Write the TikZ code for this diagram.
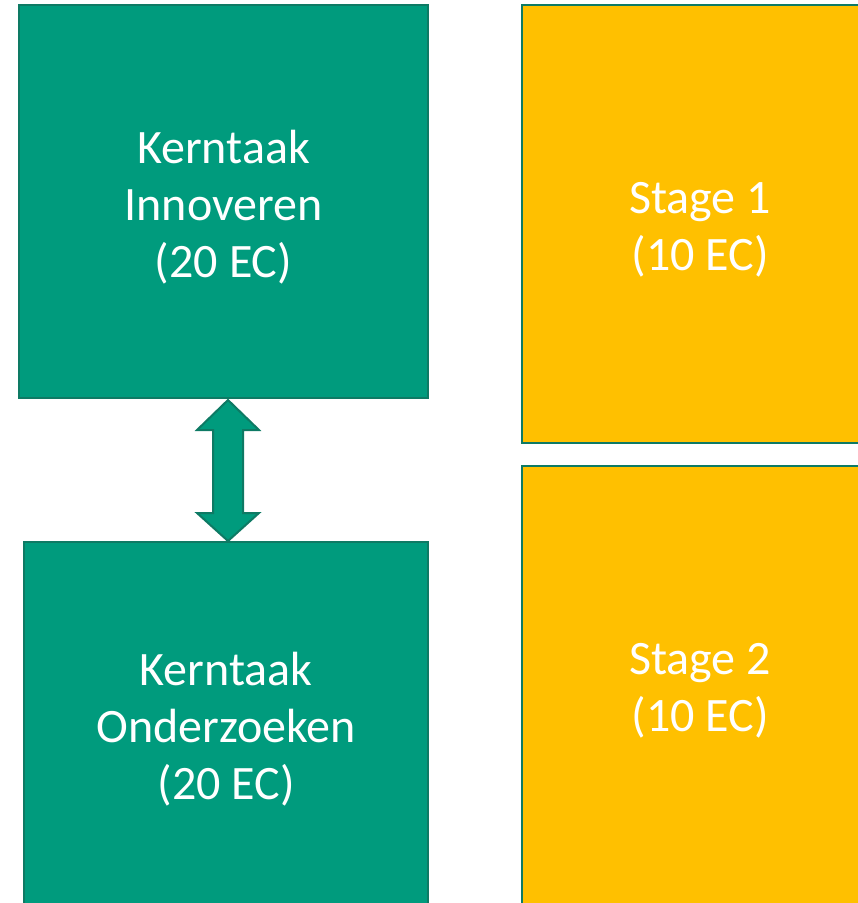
\documentclass[tikz,border=0pt]{standalone}
\usepackage{fontspec}
\setmainfont{Carlito}
\definecolor{kgreen}{HTML}{009B7D}
\definecolor{kborder}{HTML}{0E7A64}
\definecolor{kyellow}{HTML}{FFC000}
\tikzset{
  box/.style={draw=kborder, line width=2.5pt, rectangle, inner sep=0pt},
  boxtext/.style={align=center, text=white, inner sep=0pt, font=\fontsize{48}{57}\selectfont, yshift=-6pt},
  greenbox/.style={box, fill=kgreen},
  yellowbox/.style={box, fill=kyellow},
  dblarrow/.style={draw=kborder, line width=2pt, fill=kgreen, line join=miter}
}
\begin{document}
\begin{tikzpicture}[x=1pt,y=1pt]
\useasboundingbox (0,0) rectangle (858,-903);
\clip (0,0) rectangle (858,-903);
\node[greenbox, minimum width=409pt, minimum height=393pt,
  label={[boxtext]center:{Kerntaak\\Innoveren\\(20 EC)}}] (gt) at (223.5,-201.5) {};
\node[greenbox, minimum width=404pt, minimum height=362pt,
  label={[boxtext]center:{Kerntaak\\Onderzoeken\\(20 EC)}}] (gb) at (226,-723) {};
\node[yellowbox, minimum width=356pt, minimum height=438pt,
  label={[boxtext]center:{Stage 1\\(10 EC)}}] (yt) at (700,-224) {};
\node[yellowbox, minimum width=356pt, minimum height=438pt,
  label={[boxtext]center:{Stage 2\\(10 EC)}}] (yb) at (700,-685) {};
\coordinate (t1) at (228,-400);
\coordinate (t2) at (228,-541);
\draw[dblarrow] (t1) -- ++(31,-30) -- ++(-16,0) -- ++(0,-83) -- ++(16,0) -- (t2)
  -- ++(-31,28) -- ++(16,0) -- ++(0,83) -- ++(-16,0) -- cycle;
\end{tikzpicture}
\end{document}
